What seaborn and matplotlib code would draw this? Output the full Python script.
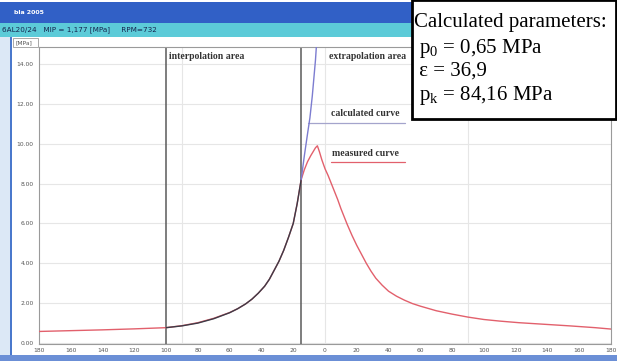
import matplotlib
matplotlib.use("Agg")
import matplotlib.pyplot as plt
from matplotlib.patches import Rectangle
from matplotlib.ticker import MultipleLocator, FuncFormatter
import pandas as pd
import seaborn as sns

W, H = 617, 361

# measured cylinder pressure, crank angle [deg] vs [MPa]
measured_angle = [-180, -160, -140, -120, -100, -90, -80, -70, -60, -55, -50, -46, -42,
                  -38, -35, -32, -29, -26, -23, -20, -17.5, -15, -13, -11, -9, -7.5,
                  -6, -4.8, -3.5, -2, 0, 2, 4, 6, 8, 10, 12, 14, 17, 20, 23, 26, 29,
                  32, 36, 40, 45, 50, 55, 60, 70, 80, 90, 100, 110, 122, 140, 154,
                  170, 180]
measured_p = [0.58, 0.62, 0.66, 0.71, 0.77, 0.87, 1.02, 1.24, 1.53, 1.72, 1.96, 2.2, 2.5,
              2.85, 3.2, 3.65, 4.1, 4.65, 5.3, 6.0, 7.0, 8.2, 8.7, 9.1, 9.4, 9.6,
              9.8, 9.9, 9.6, 9.2, 8.75, 8.4, 8.0, 7.6, 7.2, 6.75, 6.35, 5.95, 5.4,
              4.9, 4.45, 4.0, 3.6, 3.25, 2.9, 2.6, 2.35, 2.15, 1.98, 1.85, 1.62,
              1.45, 1.3, 1.18, 1.1, 1.02, 0.93, 0.86, 0.77, 0.7]

# calculated (fitted) curve inside the interpolation area
calc_angle = [-100, -90, -80, -70, -60, -55, -50, -46, -42, -38, -35, -32, -29, -26,
              -23, -20, -17.5, -15]
calc_p = [0.77, 0.86, 1.0, 1.22, 1.52, 1.72, 1.96, 2.2, 2.5, 2.85, 3.2, 3.65, 4.1, 4.65,
          5.3, 6.0, 7.0, 8.2]

# calculated curve extrapolated past the last measured point
extra_angle = [-15, -13, -11, -9.5, -8, -7, -6, -5.5, -5]
extra_p = [8.2, 9.4, 10.5, 11.3, 12.4, 13.3, 14.2, 14.8, 15.5]

boundaries = [-100, -15]
header_text = "6AL20/24   MIP = 1,177 [MPa]     RPM=732"
params_lines = ["Calculated parameters:", r" p$_0$ = 0,65 MPa",
                " ε = 36,9", r" p$_\mathrm{k}$ = 84,16 MPa"]


def fx(x):
    return x / W


def fy(y):
    return 1 - y / H


def add_rect(fig, x0, y0, x1, y1, **kw):
    fig.add_artist(Rectangle((fx(x0), fy(y1)), (x1 - x0) / W, (y1 - y0) / H,
                             transform=fig.transFigure, **kw))


def main():
    sns.set_style("white")
    plt.rcParams["mathtext.fontset"] = "custom"
    plt.rcParams["mathtext.rm"] = "Liberation Serif"
    plt.rcParams["mathtext.it"] = "Liberation Serif:italic"

    fig = plt.figure(figsize=(W / 100, H / 100), dpi=100)
    fig.patch.set_facecolor("white")

    # window chrome
    add_rect(fig, 0, 2, W, 23, facecolor="#3160c6", edgecolor="none", zorder=1)
    add_rect(fig, 0, 23, W, 37, facecolor="#5ccbd8", edgecolor="none", zorder=1)
    add_rect(fig, 0, 37, 10, 356, facecolor="#dce8f6", edgecolor="none", zorder=1)
    add_rect(fig, 10, 37, 12, 356, facecolor="#4a78cc", edgecolor="none", zorder=1)
    add_rect(fig, 0, 355, W, H, facecolor="#6b8fd6", edgecolor="none", zorder=1)
    add_rect(fig, 13, 38, 38, 47, facecolor="white", edgecolor="#9a9a9a", lw=0.6, zorder=1)
    fig.text(fx(14), fy(13), "bla 2005", color="white", fontsize=4.5,
             fontweight="bold", va="center")
    fig.text(fx(2), fy(30), header_text, color="#16244e", fontsize=5.2, va="center")
    fig.text(fx(15), fy(42.5), "[MPa]", color="#555555", fontsize=4.2, va="center")

    ax = fig.add_axes([fx(39), fy(344), (611 - 39) / W, (344 - 47) / H])
    ax.set_facecolor("white")

    meas = pd.DataFrame({"angle": measured_angle, "p": measured_p})
    calc = pd.DataFrame({"angle": calc_angle, "p": calc_p})
    extra = pd.DataFrame({"angle": extra_angle, "p": extra_p})

    sns.lineplot(data=meas, x="angle", y="p", ax=ax, color="#e2606c", lw=1.0,
                 sort=False, zorder=3)
    sns.lineplot(data=calc, x="angle", y="p", ax=ax, color="#3c3c48", lw=1.0,
                 sort=False, zorder=4)
    sns.lineplot(data=extra, x="angle", y="p", ax=ax, color="#7c7cd0", lw=1.0,
                 sort=False, zorder=4)

    for b in boundaries:
        ax.axvline(b, color="#5a5a5a", lw=1.1, zorder=2)

    ax.set_xlim(-180, 180)
    ax.set_ylim(-0.05, 14.86)
    ax.xaxis.set_major_locator(MultipleLocator(20))
    ax.xaxis.set_minor_locator(MultipleLocator(5))
    ax.yaxis.set_major_locator(MultipleLocator(2))
    ax.xaxis.set_major_formatter(FuncFormatter(lambda v, _: f"{abs(v):.0f}"))
    ax.yaxis.set_major_formatter(FuncFormatter(lambda v, _: f"{v:.2f}"))
    ax.tick_params(axis="both", labelsize=4.3, labelcolor="#555555", color="#888888",
                   length=2.5, width=0.6, pad=1.5)
    ax.tick_params(axis="x", which="both", direction="inout")
    ax.tick_params(axis="x", which="minor", length=2.0, width=0.5, color="#888888")
    ax.set_xlabel("")
    ax.set_ylabel("")

    ax.yaxis.grid(True, color="#e6e6e6", lw=0.8)
    for g in (-90, 0, 90):
        ax.axvline(g, color="#e6e6e6", lw=0.8, zorder=1)
    for s in ax.spines.values():
        s.set_color("#9a9a9a")
        s.set_linewidth(0.8)

    lab = dict(family="Liberation Serif", fontsize=7.0, color="#333333",
               fontweight="bold", va="center")
    ax.text(-98, 14.36, "interpolation area", **lab)
    ax.text(2.5, 14.36, "extrapolation area", **lab)
    ax.text(3.5, 11.5, "calculated curve", **lab)
    ax.text(4.5, 9.52, "measured curve", **lab)
    ax.plot([-10.6, 50.6], [11.03, 11.03], color="#a4a4cc", lw=0.9)
    ax.plot([3.5, 50.6], [9.07, 9.07], color="#e2606c", lw=0.9)

    # parameter box on top of everything
    add_rect(fig, 412, 0, 616, 119, facecolor="white", edgecolor="black", lw=2, zorder=5)
    for i, line in enumerate(params_lines):
        fig.text(fx(414), fy([27, 53, 76, 100][i]), line, family="Liberation Serif",
                 fontsize=15, color="black", va="baseline", zorder=6)

    fig.savefig("out.png", dpi=100)
    plt.close(fig)


if __name__ == "__main__":
    main()
